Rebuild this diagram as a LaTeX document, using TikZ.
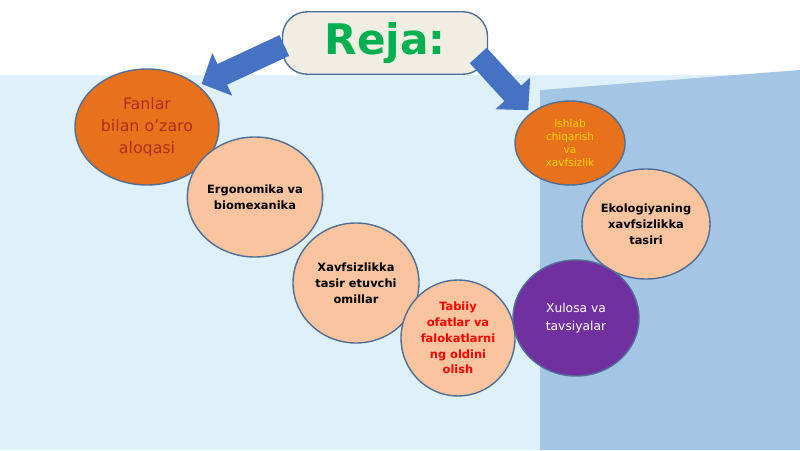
\documentclass[tikz,border=0pt]{standalone}
\usepackage{fontspec}
\setmainfont{DejaVu Sans}
\usetikzlibrary{arrows.meta,shapes.geometric,positioning}
\definecolor{skyback}{RGB}{222,240,250}
\definecolor{panelblue}{RGB}{164,198,228}
\definecolor{darkorange}{RGB}{232,114,28}
\definecolor{peach}{RGB}{249,196,158}
\definecolor{plum}{RGB}{112,48,160}
\definecolor{rimblue}{RGB}{80,110,150}
\definecolor{arrowblue}{RGB}{70,114,196}
\definecolor{rejagreen}{RGB}{0,176,80}
\definecolor{boxfill}{RGB}{240,238,226}
\definecolor{brickred}{RGB}{170,50,30}
\begin{document}
\begin{tikzpicture}[>=Stealth,
		topic/.style={ellipse, draw=rimblue, line width=0.8pt, align=center, font=\fontsize{6.5}{9}\selectfont\bfseries, inner sep=0pt},
		bigarrow/.style={line width=13pt, color=arrowblue, -{Triangle[length=13pt, width=26pt]}, shorten >=2pt}
		]
		\useasboundingbox (0,0) rectangle (16,9);
		\fill[white] (0,0) rectangle (16,9);
		\fill[skyback] (0,0) rectangle (16,7.5);
		\fill[panelblue] (10.8,0) -- (10.8,7.2) -- (16,7.6) -- (16,0) -- cycle;
		
		\node[draw=rimblue, fill=boxfill, rounded corners=14pt, minimum width=4.1cm, minimum height=1.25cm, line width=0.8pt, text=rejagreen, font=\fontsize{24}{28}\selectfont\bfseries] (reja) at (7.7,8.14) {Reja:};
		
		\node[topic, fill=darkorange, minimum width=2.88cm, minimum height=2.32cm, text=brickred, font=\fontsize{9}{12.5}\selectfont] (fanlar) at (2.94,6.46) {Fanlar\\bilan o'zaro\\aloqasi};
		\node[topic, fill=peach, minimum width=2.52cm, minimum height=2.4cm] (ergo) at (5.1,5.06) {Ergonomika va\\biomexanika};
		\node[topic, fill=peach, minimum width=2.52cm, minimum height=2.4cm] (xavf) at (7.12,3.34) {Xavfsizlikka\\tasir etuvchi\\omillar};
		\node[topic, fill=peach, minimum width=2.28cm, minimum height=2.32cm, text=red] (tabiiy) at (9.16,2.24) {Tabiiy\\ofatlar va\\falokatlarni\\ng oldini\\olish};
		\node[topic, fill=darkorange, minimum width=2.2cm, minimum height=1.68cm, text=yellow!70!orange, font=\fontsize{6}{7.5}\selectfont] (ishlab) at (11.4,6.14) {Ishlab\\chiqarish\\va\\xavfsizlik};
		\node[topic, fill=peach, minimum width=2.56cm, minimum height=2.2cm] (ekol) at (12.92,4.52) {Ekologiyaning\\xavfsizlikka\\tasiri};
		\node[topic, fill=plum, minimum width=2.52cm, minimum height=2.32cm, text=white, font=\fontsize{7}{10}\selectfont] (xulosa) at (11.52,2.64) {Xulosa va\\tavsiyalar};
		
		\draw[bigarrow] (reja.west) ++(0.05,-0.05) coordinate (lstart) -- (fanlar.north east);
		\draw[bigarrow] (reja.east) ++(-0.2,-0.25) coordinate (rstart) -- (ishlab.north west);
\end{tikzpicture}
\end{document}
